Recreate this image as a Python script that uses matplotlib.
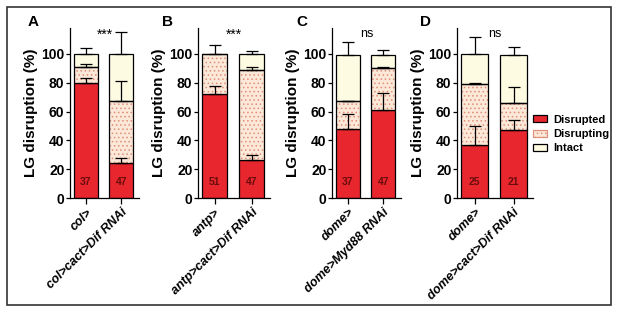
import matplotlib

matplotlib.use("Agg")
import matplotlib.pyplot as plt
from matplotlib.patches import Patch, Rectangle

plt.rcParams["font.family"] = ["Liberation Sans", "DejaVu Sans"]
plt.rcParams["font.weight"] = "bold"
plt.rcParams["hatch.linewidth"] = 0.6

# panel data: genotypes, stacked % (disrupted, disrupting, intact), upper error, n
panels = ["A", "B", "C", "D"]
genotypes = [
    ["col>", "col>cact>Dif RNAi"],
    ["antp>", "antp>cact>Dif RNAi"],
    ["dome>", "dome>Myd88 RNAi"],
    ["dome>", "dome>cact>Dif RNAi"],
]
disrupted = [[80, 24], [72, 26.5], [48, 61], [37, 47]]
disrupting = [[11, 43], [28, 62.5], [19, 29], [42, 19]]
intact = [[9, 33], [0, 11], [32, 9], [21, 33]]
err_disrupted = [[3, 4], [6, 3.5], [10, 12], [13, 7]]
err_disrupting = [[2, 14], [6, 2], [0.5, 1], [1, 11]]
err_intact = [[4, 15], [0, 2], [9, 3.5], [12, 6]]
counts = [[37, 47], [51, 47], [37, 47], [25, 21]]
significance = ["***", "***", "ns", "ns"]

RED = "#e8262e"
PEACH = "#fbe8d8"
CREAM = "#fdfbe2"
DOTS = "#e0907a"

W, H = 617, 312
fig = plt.figure(figsize=(W / 100, H / 100), dpi=100)
fig.patches.append(Rectangle((7 / W, 7 / H), 604 / W, 298 / H, transform=fig.transFigure,
                             fill=False, edgecolor="#333333", linewidth=1.2))

# axes left edge / width in pixels
lefts = [70, 198, 332, 457]
widths = [69, 72, 69, 76]
letter_x = [28, 162, 296, 420]
top_px, bot_px = 28, 198

for i in range(4):
    ax = fig.add_axes([lefts[i] / W, (H - bot_px) / H, widths[i] / W, (bot_px - top_px) / H])
    x = [0, 1]
    bw = 0.67
    bottom1 = disrupted[i]
    bottom2 = [a + b for a, b in zip(disrupted[i], disrupting[i])]
    ax.bar(x, disrupted[i], bw, color=RED, edgecolor="black", linewidth=0.9, zorder=2)
    ax.bar(x, disrupting[i], bw, bottom=bottom1, color=PEACH, edgecolor=DOTS, hatch="....",
           linewidth=0, zorder=2)
    ax.bar(x, disrupting[i], bw, bottom=bottom1, fill=False, edgecolor="black", linewidth=0.9, zorder=3)
    ax.bar(x, intact[i], bw, bottom=bottom2, color=CREAM, edgecolor="black", linewidth=0.9, zorder=2)

    tops = [disrupted[i], bottom2, [a + b for a, b in zip(bottom2, intact[i])]]
    errs = [err_disrupted[i], err_disrupting[i], err_intact[i]]
    for t, e in zip(tops, errs):
        for xi, ti, ei in zip(x, t, e):
            if ei <= 0:
                continue
            ax.errorbar(xi, ti, yerr=[[0], [ei]], fmt="none", ecolor="black", elinewidth=0.9,
                        capsize=4, capthick=0.9, zorder=4)

    for xi, n in zip(x, counts[i]):
        ax.text(xi, 11, str(n), ha="center", va="center", fontsize=7.5, color="#6a0c0c",
                fontweight="bold", zorder=5)

    ax.set_ylim(0, 118)
    ax.set_xlim(-0.45, 1.5)
    ax.set_yticks([0, 20, 40, 60, 80, 100])
    ax.tick_params(axis="y", labelsize=10, width=0.9, length=3, pad=1)
    ax.set_xticks(x)
    ax.set_xticklabels(genotypes[i], rotation=45, ha="right", rotation_mode="anchor",
                       fontsize=9, fontstyle="italic", fontweight="bold")
    ax.tick_params(axis="x", width=0.9, length=4, pad=2)
    ax.spines["top"].set_visible(False)
    ax.spines["right"].set_visible(False)
    ax.spines["left"].set_linewidth(0.9)
    ax.spines["bottom"].set_linewidth(0.9)
    ax.set_ylabel("LG disruption (%)", fontsize=11, fontweight="bold", labelpad=2)
    ax.text(0.5, 1.0, significance[i], transform=ax.transAxes, ha="center", va="top",
            fontsize=10 if significance[i] == "***" else 9, fontweight="normal")
    fig.text(letter_x[i] / W, (H - 22) / H, panels[i], fontsize=11, fontweight="bold",
             va="center", ha="left")

handles = [
    Patch(facecolor=RED, edgecolor="black", linewidth=0.9, label="Disrupted"),
    Patch(facecolor=PEACH, edgecolor=DOTS, hatch="....", linewidth=0.9, label="Disrupting"),
    Patch(facecolor=CREAM, edgecolor="black", linewidth=0.9, label="Intact"),
]
fig.legend(handles=handles, loc="center left", bbox_to_anchor=(533 / W, (H - 134) / H),
           frameon=False, fontsize=8, handlelength=1.3, handleheight=0.6, labelspacing=0.4,
           handletextpad=0.5, borderaxespad=0, borderpad=0)

fig.savefig("out.png", dpi=100)
